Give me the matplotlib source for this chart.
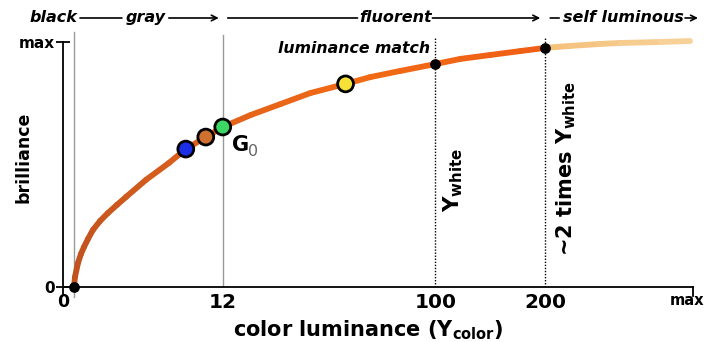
import numpy as np
import matplotlib
matplotlib.use("Agg")
import matplotlib.pyplot as plt
from matplotlib.collections import LineCollection
from matplotlib.colors import to_rgb

# curve: x = position along the axis, y = brilliance (0..max=1)
curve_x = [10, 11, 14, 17, 20, 24, 29, 36, 44, 53, 62, 82, 105, 122, 142, 159, 187, 217,
           247, 282, 307, 337, 372, 397, 427, 457, 482, 507, 537, 557, 597, 627]
curve_y = [0.0, 0.041, 0.098, 0.135, 0.163, 0.196, 0.233, 0.269, 0.302, 0.335, 0.367,
           0.437, 0.506, 0.563, 0.612, 0.653, 0.702, 0.747, 0.792, 0.829, 0.857, 0.882,
           0.91, 0.931, 0.947, 0.963, 0.976, 0.984, 0.992, 0.996, 1.0, 1.004]

tick_pos = [-1, 159, 372, 482, 624]
tick_labels = ["0", "12", "100", "200", "max"]

# coloured samples on the curve
sample_x = [122, 142, 159, 282]
sample_y = [0.563, 0.612, 0.653, 0.829]
sample_col = ["#1c2fe6", "#d0702e", "#3cd664", "#f6e236"]

# black reference points
ref_x = [10, 372, 482]
ref_y = [0.0, 0.91, 0.976]

# colour stops of the curve (position, colour)
grad_pos = [0, 150, 300, 482, 490, 630]
grad_col = ["#bf521f", "#e0621c", "#f26a14", "#ef5f16", "#f5c07a", "#f7d39c"]

fig = plt.figure(figsize=(7.08, 3.42), dpi=100)
ax = fig.add_axes([63 / 708, 55 / 342, 630 / 708, 277 / 342])
ax.set_xlim(0, 630)
ax.set_ylim(0, 277 / 245)
for s in ["top", "right"]:
    ax.spines[s].set_visible(False)
ax.spines["left"].set_bounds(-0.03, 1)
ax.spines["left"].set_linewidth(1.3)
ax.spines["bottom"].set_linewidth(1.3)

# vertical guide lines
ax.plot([10, 10], [-0.04, 1.04], color="#999999", lw=1, clip_on=False)
ax.plot([159, 159], [0, 1.03], color="#999999", lw=1)
for xv in [372, 482]:
    ax.plot([xv, xv], [0, 1.02], color="black", lw=1, ls=(0, (1, 1.2)))
ax.plot([630, 630], [0, -0.035], color="black", lw=1.3, clip_on=False)

# gradient curve
pts = np.column_stack([curve_x, curve_y])
segs = np.stack([pts[:-1], pts[1:]], axis=1)
mids = (pts[:-1, 0] + pts[1:, 0]) / 2
rgb = np.array([to_rgb(c) for c in grad_col])
cols = np.column_stack([np.interp(mids, grad_pos, rgb[:, k]) for k in range(3)])
lc = LineCollection(segs, colors=cols, linewidths=4.2, capstyle="round", joinstyle="round")
ax.add_collection(lc)

ax.scatter(ref_x, ref_y, s=45, color="black", zorder=5, clip_on=False)
ax.scatter(sample_x, sample_y, s=130, c=sample_col, edgecolors="black", linewidths=2, zorder=6)

# axes ticks and labels
ax.set_xticks(tick_pos)
ax.set_xticklabels(tick_labels, fontsize=14.5, fontweight="bold")
ax.tick_params(axis="x", length=0, pad=4)
for lab in ax.get_xticklabels():
    if lab.get_text() == "0":
        lab.set_fontsize(12.5)
    if lab.get_text() == "max":
        lab.set_fontsize(10.5)
ax.set_yticks([0, 1])
ax.set_yticklabels(["0", "max"], fontsize=11, fontweight="bold")
ax.tick_params(axis="y", direction="inout", length=10, width=1.3, pad=1)
ax.set_xlabel(r"color luminance (Y$_{\mathbf{color}}$)", fontsize=15, fontweight="bold")
ax.xaxis.set_label_coords(0.484, -0.112)
ax.set_ylabel("brilliance", fontsize=12.5, fontweight="bold")
ax.yaxis.set_label_coords(-0.049, 0.469)

# labels in the plot
ax.text(168, 0.58, "G", fontsize=15, fontweight="bold", va="center")
ax.text(184, 0.553, "0", fontsize=11.5, color="#666666", va="center")
ax.text(367, 0.975, "luminance match", fontsize=11.3, fontweight="bold", style="italic",
        ha="right", va="center")
ax.text(390, 0.437, r"Y$_{\mathbf{white}}$", rotation=90, fontsize=15.5, fontweight="bold",
        ha="center", va="center")
ax.text(503, 0.482, r"~2 times Y$_{\mathbf{white}}$", rotation=90, fontsize=15,
        fontweight="bold", ha="center", va="center")

# band labels along the top
yt = 1.098
kw = dict(fontsize=11.5, fontweight="bold", style="italic", va="center", clip_on=False)
arr = dict(arrowstyle="->", color="black", lw=1.2, shrinkA=0, shrinkB=0)
line = dict(arrowstyle="-", color="black", lw=1.2, shrinkA=0, shrinkB=0)
ax.text(13, yt, "black", ha="right", **kw)
ax.annotate("", xy=(58, yt), xytext=(16, yt), arrowprops=line, annotation_clip=False)
ax.text(82, yt, "gray", ha="center", **kw)
ax.annotate("", xy=(155, yt), xytext=(105, yt), arrowprops=arr, annotation_clip=False)
ax.annotate("", xy=(294, yt), xytext=(164, yt), arrowprops=line, annotation_clip=False)
ax.text(332, yt, "fluorent", ha="center", **kw)
ax.annotate("", xy=(477, yt), xytext=(369, yt), arrowprops=arr, annotation_clip=False)
ax.annotate("", xy=(496, yt), xytext=(487, yt), arrowprops=line, annotation_clip=False)
ax.text(560, yt, "self luminous", ha="center", **kw)
ax.annotate("", xy=(635, yt), xytext=(622, yt), arrowprops=arr, annotation_clip=False)

fig.savefig("out.png", dpi=100)
